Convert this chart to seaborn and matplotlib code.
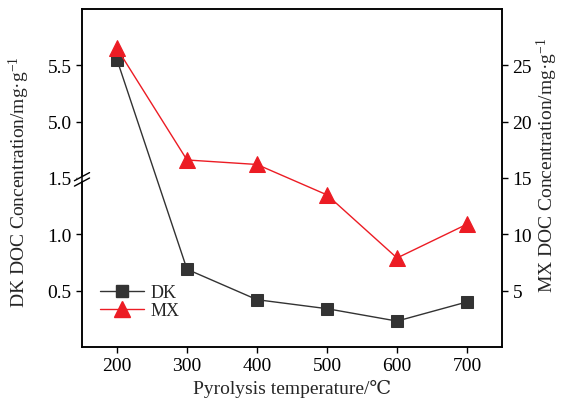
import numpy as np
import pandas as pd
import matplotlib
matplotlib.use("Agg")
import matplotlib.pyplot as plt
import seaborn as sns
from matplotlib.lines import Line2D

# ---- data ----
temperature = [200, 300, 400, 500, 600, 700]
dk_doc = [5.55, 0.69, 0.42, 0.34, 0.23, 0.40]
mx_doc = [26.5, 16.6, 16.2, 13.5, 7.9, 10.9]
left_ticks = [0.5, 1.0, 1.5, 5.0, 5.5]
right_ticks = [5, 10, 15, 20, 25]
x_ticks = [200, 300, 400, 500, 600, 700]

df = pd.DataFrame({"T": temperature, "DK": dk_doc, "MX": mx_doc})

sns.set_theme(style="ticks")
plt.rcParams["font.family"] = ["Liberation Serif", "DejaVu Serif", "DejaVu Sans"]
plt.rcParams["mathtext.fontset"] = "custom"
plt.rcParams["mathtext.rm"] = "Liberation Serif"
plt.rcParams["mathtext.it"] = "Liberation Serif:italic"

FS = 14
DK_COLOR = "#333333"
MX_COLOR = "#ec1c24"

fig = plt.figure(figsize=(5.61, 4.02), dpi=100)
fig.patch.set_facecolor("white")
ax = fig.add_axes([82 / 561, 54 / 402, 420 / 561, 338 / 402])

# broken-axis scale for DK: 1.5..5.0 compressed into 0.5 units
LO, HI, GAP = 1.5, 5.0, 0.5

def fwd(v):
    v = np.asarray(v, dtype=float)
    return np.where(v <= LO, v,
                    np.where(v >= HI, v - (HI - LO) + GAP,
                             LO + (v - LO) * GAP / (HI - LO)))

def inv(u):
    u = np.asarray(u, dtype=float)
    return np.where(u <= LO, u,
                    np.where(u >= LO + GAP, u + (HI - LO) - GAP,
                             LO + (u - LO) * (HI - LO) / GAP))

ax.set_yscale("function", functions=(fwd, inv))

sns.lineplot(data=df, x="T", y="DK", ax=ax, color=DK_COLOR, marker="s",
             markersize=9, markeredgecolor=DK_COLOR, linewidth=1.0)
ax.set_xlim(150, 750)
ax.set_ylim(0.0, 6.0)
ax.set_yticks(left_ticks)
ax.set_yticklabels([f"{t:.1f}" for t in left_ticks])
ax.set_xticks(x_ticks)
ax.set_xlabel("Pyrolysis temperature/\u2103", fontsize=FS, labelpad=3)
ax.set_ylabel("DK DOC Concentration/mg\u00b7g$^{-1}$", fontsize=FS)
ax.yaxis.set_label_coords(-0.118, 0.49)

ax2 = ax.twinx()
sns.lineplot(data=df, x="T", y="MX", ax=ax2, color=MX_COLOR, marker="^",
             markersize=12, markeredgecolor=MX_COLOR, linewidth=1.0)
ax2.set_ylim(0, 30)
ax2.set_yticks(right_ticks)
ax2.set_ylabel("MX DOC Concentration/mg\u00b7g$^{-1}$", fontsize=FS)
ax2.yaxis.set_label_coords(1.078, 0.54)

for a in (ax, ax2):
    a.tick_params(direction="out", length=4, width=1.0, labelsize=FS,
                  colors="black")
    for s in a.spines.values():
        s.set_visible(True)
        s.set_color("black")
        s.set_linewidth(1.1)
    a.grid(False)

# break marks on the left spine
ybr = 0.5
ax.plot([-0.008, 0.008], [ybr - 0.004, ybr - 0.004], transform=ax.transAxes,
        color="white", lw=3, clip_on=False, zorder=5)
for dy in (-0.012, 0.004):
    ax.plot([-0.018, 0.018], [ybr + dy - 0.012, ybr + dy + 0.012],
            transform=ax.transAxes, color="black", lw=1.0, clip_on=False,
            zorder=6)

handles = [
    Line2D([], [], color=DK_COLOR, marker="s", markersize=9, lw=1.0),
    Line2D([], [], color=MX_COLOR, marker="^", markersize=12, lw=1.0),
]
ax.legend(handles, ["DK", "MX"], loc="lower left",
          bbox_to_anchor=(0.005, 0.035), frameon=False, fontsize=FS - 1,
          handlelength=2.4, handletextpad=0.4, labelspacing=0.05)

fig.savefig("out.png", dpi=100)
